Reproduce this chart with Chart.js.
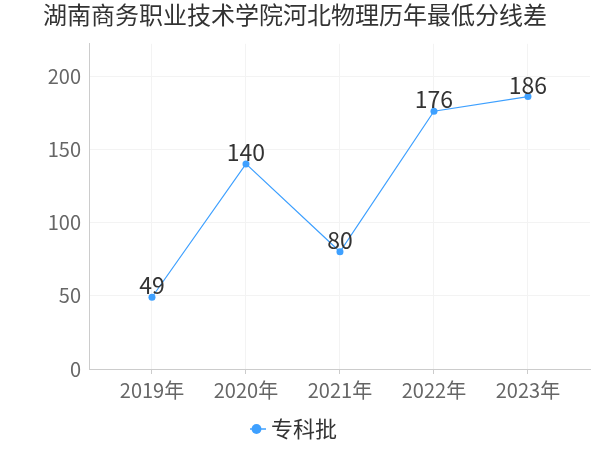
<!DOCTYPE html>
<html>
<head>
<meta charset="utf-8">
<script src="https://cdn.jsdelivr.net/npm/chart.js@4"></script>
<style>
  html, body { margin: 0; padding: 0; background: #fff; }
</style>
</head>
<body>
<canvas id="chart" width="600" height="450"></canvas>
<script>
const years = ["2019年", "2020年", "2021年", "2022年", "2023年"];
const scores = [49, 140, 80, 176, 186];
const seriesName = "专科批";
const yTicks = [0, 50, 100, 150, 200];

const FONT = "'Noto Sans CJK SC', sans-serif";
const BLUE = "#3ea0ff";

// value labels above points
const valueLabels = {
  id: "valueLabels",
  afterDatasetsDraw(chart) {
    const ctx = chart.ctx;
    const meta = chart.getDatasetMeta(0);
    ctx.save();
    ctx.font = "23px " + FONT;
    ctx.fillStyle = "#333";
    ctx.textAlign = "center";
    ctx.textBaseline = "alphabetic";
    meta.data.forEach((pt, i) => {
      ctx.fillText(String(scores[i]), pt.x, pt.y - 3);
    });
    ctx.restore();
  },
};

// line through the legend marker
const legendLine = {
  id: "legendLine",
  afterDraw(chart) {
    const box = chart.legend && chart.legend.legendHitBoxes[0];
    if (!box) return;
    const ctx = chart.ctx;
    const cx = box.left + 5;
    const cy = box.top + box.height / 2;
    ctx.save();
    ctx.strokeStyle = BLUE;
    ctx.lineWidth = 1.5;
    ctx.beginPath();
    ctx.moveTo(cx - 8, cy);
    ctx.lineTo(cx + 8, cy);
    ctx.stroke();
    ctx.restore();
  },
};

new Chart(document.getElementById("chart"), {
  type: "line",
  data: {
    datasets: [
      {
        label: seriesName,
        data: scores.map((v, i) => ({ x: i, y: v })),
        borderColor: BLUE,
        backgroundColor: BLUE,
        borderWidth: 1.2,
        pointRadius: 3.5,
        pointHoverRadius: 4,
        pointBackgroundColor: BLUE,
        pointBorderWidth: 0,
        tension: 0,
      },
    ],
  },
  options: {
    responsive: false,
    animation: false,
    devicePixelRatio: 1,
    layout: {
      padding: { left: 0, right: 10, top: 0, bottom: 0 },
    },
    plugins: {
      title: {
        display: true,
        text: "湖南商务职业技术学院河北物理历年最低分线差",
        color: "#333",
        font: { family: FONT, size: 24, weight: "normal" },
        padding: { top: 0, bottom: 15 },
      },
      legend: {
        position: "bottom",
        labels: {
          usePointStyle: true,
          pointStyle: "circle",
          boxWidth: 7,
          boxHeight: 7,
          color: "#333",
          padding: 12,
          font: { family: FONT, size: 22 },
        },
      },
      tooltip: { enabled: false },
    },
    scales: {
      x: {
        type: "linear",
        min: -0.67,
        max: 4.66,
        afterBuildTicks: (axis) => {
          axis.ticks = years.map((_, i) => ({ value: i }));
        },
        ticks: {
          callback: (value) => years[value],
          color: "#666",
          font: { family: FONT, size: 20 },
          padding: 4,
          maxRotation: 0,
        },
        grid: {
          color: "#f3f3f3",
          drawTicks: true,
          tickColor: "#ccc",
          tickLength: 5,
        },
        border: { color: "#ccc" },
      },
      y: {
        min: 0,
        max: 222,
        afterBuildTicks: (axis) => {
          axis.ticks = yTicks.map((v) => ({ value: v }));
        },
        afterFit: (axis) => {
          axis.width = 89;
        },
        ticks: {
          color: "#666",
          font: { family: FONT, size: 20 },
          padding: 8,
        },
        grid: {
          color: "#f3f3f3",
          drawTicks: false,
        },
        border: { color: "#ccc" },
      },
    },
  },
  plugins: [valueLabels, legendLine],
});
</script>
</body>
</html>
